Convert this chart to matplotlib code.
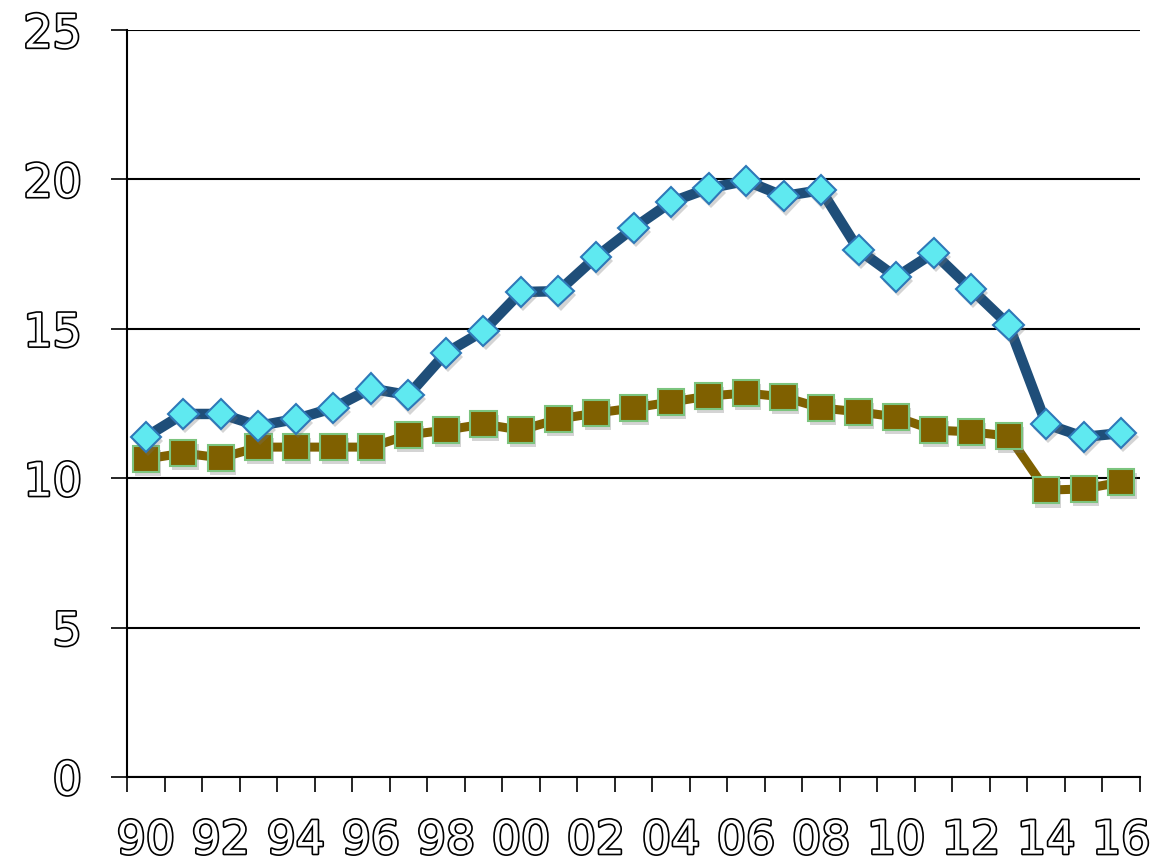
import matplotlib
matplotlib.use("Agg")
import matplotlib.pyplot as plt
import matplotlib.patheffects as pe
import numpy as np

years = ["90", "91", "92", "93", "94", "95", "96", "97", "98", "99",
         "00", "01", "02", "03", "04", "05", "06", "07", "08", "09",
         "10", "11", "12", "13", "14", "15", "16"]
blue_vals = [11.38, 12.15, 12.15, 11.75, 11.98, 12.35, 13.0, 12.78, 14.19, 14.93,
             16.23, 16.26, 17.4, 18.37, 19.24, 19.7, 19.95, 19.44, 19.64, 17.64,
             16.73, 17.54, 16.33, 15.13, 11.81, 11.38, 11.51]
brown_vals = [10.64, 10.84, 10.68, 11.04, 11.04, 11.04, 11.04, 11.45, 11.61, 11.81,
              11.61, 11.98, 12.18, 12.35, 12.55, 12.75, 12.85, 12.72, 12.35, 12.22,
              12.05, 11.61, 11.55, 11.41, 9.6, 9.64, 9.87]
y_ticks = [0, 5, 10, 15, 20, 25]

outline = [pe.withStroke(linewidth=2.4, foreground="black")]
shadow = [pe.SimplePatchShadow(offset=(1.5, -3), shadow_rgbFace="0.45", alpha=0.3),
          pe.Normal()]

fig = plt.figure(figsize=(11.76, 8.64), dpi=100)
ax = fig.add_axes([0.108, 0.1007, 0.8614, 0.8646])

x = np.arange(len(years)) + 0.5
# lines first, markers on top with a soft drop shadow
ax.plot(x, brown_vals, color="#7F6000", lw=6.5, zorder=3)
ax.plot(x, brown_vals, ls="none", marker="s", ms=19,
        mfc="#7F6000", mec="#7CC47E", mew=1.5, zorder=3.5, path_effects=shadow)
ax.plot(x, blue_vals, color="#1F4E79", lw=7.5, zorder=4)
ax.plot(x, blue_vals, ls="none", marker="D", ms=15.5,
        mfc="#5FE9F0", mec="#2E78B8", mew=1.5, zorder=4.5, path_effects=shadow)

ax.set_xlim(0, len(years))
ax.set_ylim(0, 25)
ax.set_yticks(y_ticks)
ax.set_yticklabels([str(v) for v in y_ticks])
ax.yaxis.grid(True, color="black", lw=1.5)
ax.set_axisbelow(True)
ax.tick_params(axis="y", length=11.5, width=1.2, pad=21, labelsize=33,
               labelcolor="white")

ax.set_xticks(x[::2])
ax.set_xticklabels(years[::2])
ax.set_xticks(np.arange(len(years) + 1), minor=True)
ax.tick_params(axis="x", which="major", length=0, pad=30, labelsize=33,
               labelcolor="white")
ax.tick_params(axis="x", which="minor", length=11, width=1.2)

for lab in ax.get_xticklabels() + ax.get_yticklabels():
    lab.set_path_effects(outline)

for s in ["top", "right"]:
    ax.spines[s].set_visible(False)
ax.spines["left"].set_linewidth(1.5)
ax.spines["bottom"].set_linewidth(1.5)

fig.savefig("out.png", dpi=100)
